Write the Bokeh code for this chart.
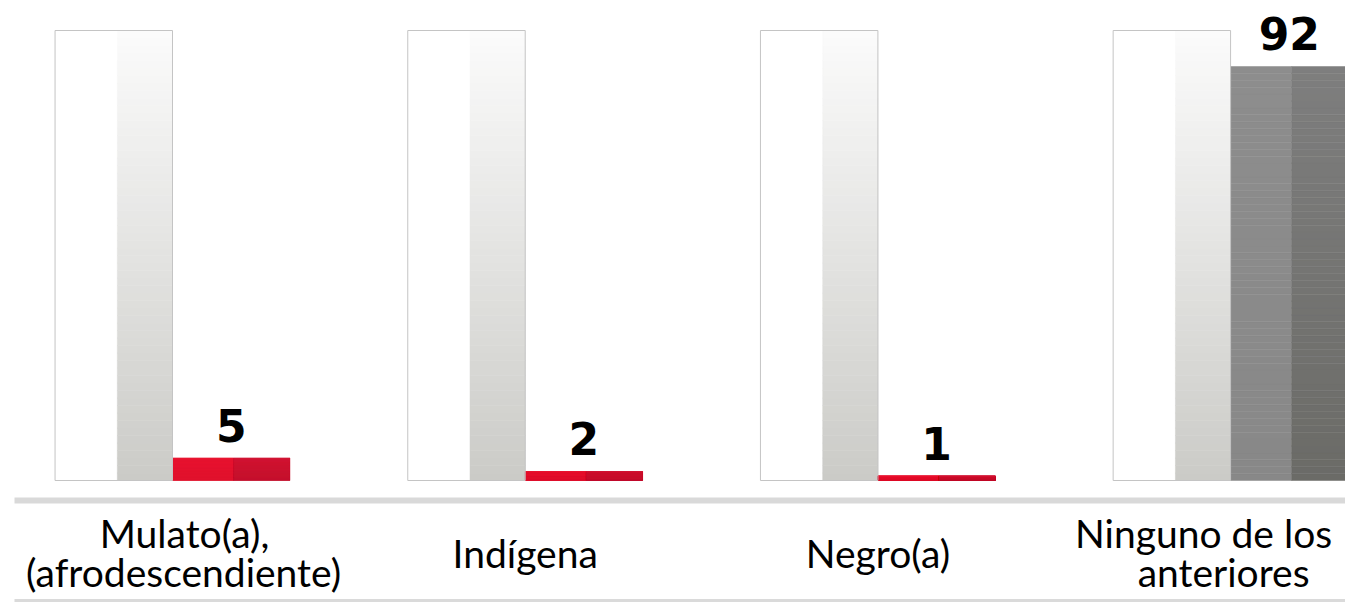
import numpy as np
from bokeh.plotting import figure
from bokeh.core.properties import value
from bokeh.embed import file_html
from bokeh.resources import INLINE

# ---------------- data ----------------
categories = ["Mulato(a),\n(afrodescendiente)", "Indígena", "Negro(a)", "Ninguno de los\nanteriores"]
values = [5, 2, 1, 92]
totals = [100, 100, 100, 100]          # background "100%" columns
bar_style = ["red", "red", "red", "grey"]

# ---------------- styling ----------------
W, H = 1345, 603
X_START, X_END = -0.4877, 3.3258
Y_START, Y_END = -27.333, 106.667
BOX_W = 0.333          # width of background column (left of group centre)
BAR_W = 0.333          # width of value bar (right of group centre)
BOX_GREY_FRAC = 0.47   # right share of the background column that is shaded
N_BANDS = 60

palette = {
    "red":  {"left": ("#e8122f", "#e0102c"), "right": ("#d01230", "#c40f2c")},
    "grey": {"left": ("#8d8d8d", "#888888"), "right": ("#7e7e7e", "#6b6b67")},
}
BOX_SHADE = ("#fbfbfb", "#cbcbc7")
LABEL_X_OFFSETS = {0: [12, 11], 3: [-27, -7]}


def mix(c1, c2, t):
    a = np.array([int(c1[i:i + 2], 16) for i in (1, 3, 5)], float)
    b = np.array([int(c2[i:i + 2], 16) for i in (1, 3, 5)], float)
    c = np.round(a + (b - a) * t).astype(int)
    return "#%02x%02x%02x" % tuple(c)


p = figure(width=W, height=H, x_range=(X_START, X_END), y_range=(Y_START, Y_END),
           output_backend="svg", toolbar_location=None, min_border=0,
           x_axis_type=None, y_axis_type=None)
p.grid.visible = False
p.outline_line_color = None
p.background_fill_color = "white"
p.border_fill_color = "white"

xs = np.arange(len(categories), dtype=float)

# gradient bands
L, R, B, T, C = [], [], [], [], []


def add_gradient(left, right, top_val, c_top, c_bot):
    for k in range(N_BANDS):
        y0 = top_val * k / N_BANDS
        y1 = top_val * (k + 1) / N_BANDS
        t_bottom = 1 - (k + 0.5) / N_BANDS   # 1 at the bottom, 0 at the top
        L.append(left); R.append(right); B.append(y0); T.append(y1)
        C.append(mix(c_top, c_bot, t_bottom))


for i, x in enumerate(xs):
    tot = totals[i]
    split = x - BOX_W * BOX_GREY_FRAC
    L.append(x - BOX_W); R.append(split); B.append(0); T.append(tot); C.append("#ffffff")
    add_gradient(split, x, tot, BOX_SHADE[0], BOX_SHADE[1])
    st = palette[bar_style[i]]
    mid = x + BAR_W * 0.52
    add_gradient(x, mid, values[i], st["left"][0], st["left"][1])
    add_gradient(mid, x + BAR_W, values[i], st["right"][0], st["right"][1])

p.quad(left=L, right=R, bottom=B, top=T, fill_color=C, line_color=C, line_width=0.5)

# background column outline
p.quad(left=xs - BOX_W, right=xs, bottom=[0] * len(xs), top=totals,
       fill_color=None, line_color="#c4c4c4", line_width=1)

# baseline band and bottom rule
px = (X_END - X_START) / W
py = (Y_END - Y_START) / H
p.segment(x0=[X_START + 14 * px], x1=[X_END], y0=[-20 * py], y1=[-20 * py],
          line_color="#d9d9d9", line_width=6)
p.segment(x0=[X_START + 14 * px], x1=[X_END], y0=[Y_START + 3 * py], y1=[Y_START + 3 * py],
          line_color="#dadada", line_width=3)

# value labels
p.text(x=xs + BAR_W / 2, y=values, text=[str(v) for v in values],
       text_font=value("DejaVu Sans"), text_font_style="bold", text_font_size="44px",
       text_align="center", text_baseline="alphabetic", y_offset=-33, text_color="#000000")

# category labels
for i, lab in enumerate(categories):
    lines = lab.split("\n")
    n = len(lines)
    offs = LABEL_X_OFFSETS.get(i, [0] * n)
    for j, line in enumerate(lines):
        yo = 72 + 39 * (j - (n - 1) / 2)
        p.text(x=[xs[i]], y=[0], text=[line], text_font=value("Lato"),
               text_font_size="39px", text_align="center", text_baseline="alphabetic",
               x_offset=offs[j], y_offset=yo, text_color="#000000")

open("out.html", "w").write(file_html(p, INLINE))
